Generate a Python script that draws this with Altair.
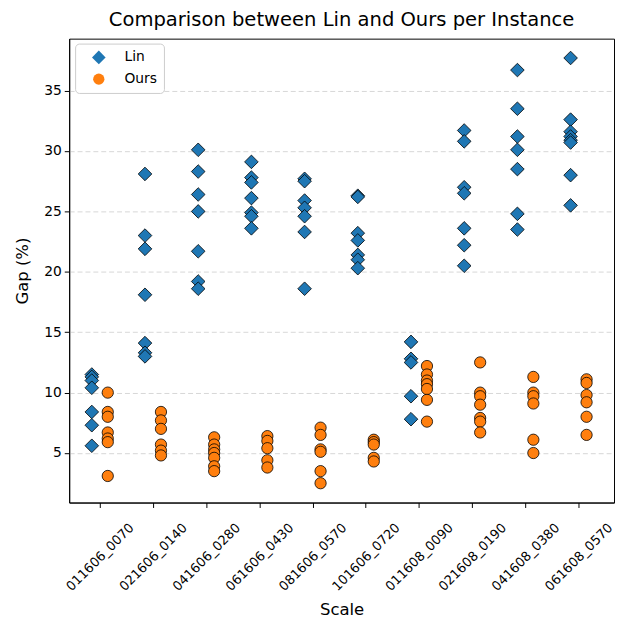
import altair as alt
import pandas as pd

categories = ["011606_0070", "021606_0140", "041606_0280", "061606_0430", "081606_0570",
              "101606_0720", "011608_0090", "021608_0190", "041608_0380", "061608_0570"]

lin_gaps = [
    [11.5, 11.3, 11.0, 10.4, 8.4, 7.3, 5.6],
    [28.1, 23.0, 21.9, 18.1, 14.1, 13.3, 13.0],
    [30.1, 28.3, 26.4, 25.0, 21.7, 19.2, 18.6],
    [29.1, 27.8, 27.4, 26.1, 24.9, 24.6, 23.6],
    [27.7, 27.5, 25.9, 25.3, 24.6, 23.3, 18.6],
    [26.3, 26.2, 23.2, 22.6, 21.4, 21.0, 20.3],
    [14.2, 12.8, 12.5, 9.7, 7.8],
    [31.7, 30.8, 27.0, 26.5, 23.6, 22.2, 20.5],
    [36.7, 33.5, 31.2, 30.1, 28.5, 24.8, 23.5],
    [37.7, 32.6, 31.6, 31.2, 30.9, 30.7, 28.0, 25.5],
]

ours_gaps = [
    [10.0, 8.4, 8.0, 6.7, 6.2, 5.9, 3.1],
    [8.4, 7.7, 7.0, 5.7, 5.2, 4.8],
    [6.3, 5.7, 5.3, 5.0, 4.6, 3.9, 3.5],
    [6.4, 6.0, 5.4, 4.4, 3.8],
    [7.1, 6.5, 5.3, 5.1, 3.5, 2.5],
    [6.1, 5.9, 5.7, 4.6, 4.3],
    [12.2, 11.5, 11.0, 10.7, 10.3, 9.4, 7.6],
    [12.5, 10.0, 9.7, 9.0, 7.9, 7.6, 6.7],
    [11.3, 10.0, 9.7, 9.1, 6.1, 5.0],
    [11.1, 10.8, 9.8, 9.2, 8.0, 6.5],
]

rows = []
for i, cat in enumerate(categories):
    for v in lin_gaps[i]:
        rows.append({"idx": i, "scale": cat, "method": "Lin", "gap": v})
    for v in ours_gaps[i]:
        rows.append({"idx": i, "scale": cat, "method": "Ours", "gap": v})
df = pd.DataFrame(rows)

label_expr = "[" + ",".join("'%s'" % c for c in categories) + "][datum.value]"

font = "DejaVu Sans"

chart = alt.Chart(df).transform_calculate(
    xpos="datum.idx + (datum.method == 'Lin' ? -0.15 : 0.15)"
).mark_point(filled=True, stroke="black", strokeWidth=0.8, opacity=1).encode(
    x=alt.X("xpos:Q", title="Scale",
            scale=alt.Scale(domain=[-0.575, 9.666], nice=False, zero=False),
            axis=alt.Axis(values=list(range(10)), labelExpr=label_expr, labelAngle=-45,
                          labelAlign="center", labelBaseline="middle", grid=False,
                          labelOverlap=False, labelBound=False, labelFlush=False,
                          labelFontSize=13.2, titleFontSize=16.7, tickSize=5,
                          labelPadding=50, titlePadding=9)),
    y=alt.Y("gap:Q", title="Gap (%)",
            scale=alt.Scale(domain=[0.9, 39.3], nice=False, zero=False),
            axis=alt.Axis(values=[5, 10, 15, 20, 25, 30, 35], grid=True,
                          gridDash=[5, 3], gridColor="#cccccc", gridWidth=0.8,
                          labelFontSize=14, titleFontSize=16.7, tickSize=5,
                          labelPadding=3, titlePadding=12)),
    color=alt.Color("method:N", title=None,
                    scale=alt.Scale(domain=["Lin", "Ours"], range=["#1f77b4", "#ff7f0e"]),
                    legend=alt.Legend(orient="none", legendX=6, legendY=5,
                                      symbolStrokeWidth=0,
                                      labelFontSize=14, symbolSize=115,
                                      fillColor="white", strokeColor="#cccccc",
                                      cornerRadius=4, padding=7, rowPadding=8,
                                      symbolOffset=10, labelOffset=19)),
    shape=alt.Shape("method:N", title=None,
                    scale=alt.Scale(domain=["Lin", "Ours"], range=["diamond", "circle"])),
    size=alt.Size("method:N", legend=None,
                  scale=alt.Scale(domain=["Lin", "Ours"], range=[190, 130])),
).properties(
    width=552,
    height=470,
    autosize=alt.AutoSizeParams(type="none"),
    title=alt.Title("Comparison between Lin and Ours per Instance", fontSize=19.8,
                    fontWeight="normal", offset=9),
    padding={"left": 62, "top": 27, "right": 1, "bottom": 120},
).configure(
    font=font,
).configure_axis(
    domainColor="black", tickColor="black", labelColor="black", titleColor="black",
    titleFontWeight="normal", labelFont=font, titleFont=font,
).configure_view(
    stroke="black", strokeWidth=1,
).configure_title(
    font=font, color="black",
)

chart.save("out.html", embed_options={"renderer": "svg", "actions": False})
